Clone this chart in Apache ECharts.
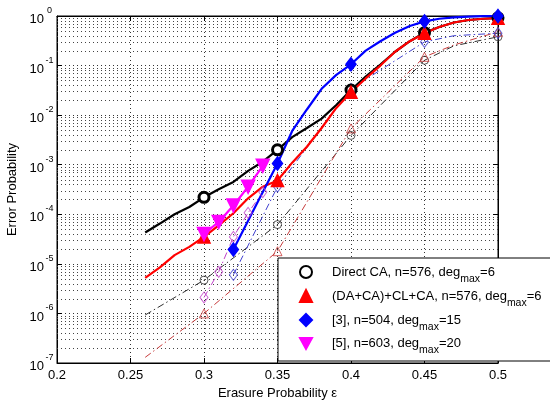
<!DOCTYPE html>
<html>
<head>
<meta charset="utf-8">
<script src="https://cdn.jsdelivr.net/npm/echarts@6/dist/echarts.min.js"></script>
<style>html,body{margin:0;padding:0;background:#fff;}#c{width:550px;height:401px;}</style>
</head>
<body>
<div id="c"></div>
<script>
// ---- data ----
const xTicks = [0.2, 0.25, 0.3, 0.35, 0.4, 0.45, 0.5];

// Direct CA, n=576 (solid black, circle markers)
const directX = [0.26,0.27,0.28,0.29,0.30,0.31,0.32,0.33,0.34,0.35,0.36,0.37,0.38,0.39,0.40,0.41,0.42,0.43,0.44,0.45,0.46,0.47,0.48,0.49,0.50];
const directY = [4.3e-5,6.5e-5,1.0e-4,1.4e-4,2.2e-4,3.2e-4,4.5e-4,7.5e-4,1.15e-3,2.0e-3,3.6e-3,5.5e-3,8.5e-3,1.6e-2,3.2e-2,6.0e-2,1.05e-1,1.9e-1,3.1e-1,4.6e-1,6.0e-1,7.4e-1,8.3e-1,8.8e-1,9.2e-1];
const directMarkX = [0.30,0.35,0.40,0.45,0.50];

// (DA+CA)+CL+CA, n=576 (solid red, triangle markers)
const daX = [0.26,0.27,0.28,0.29,0.30,0.31,0.32,0.33,0.34,0.35,0.36,0.37,0.38,0.39,0.40,0.41,0.42,0.43,0.44,0.45,0.46,0.47,0.48,0.49,0.50];
const daY = [5.2e-6,8.5e-6,1.5e-5,2.2e-5,3.5e-5,6.0e-5,1.05e-4,2.1e-4,3.6e-4,4.8e-4,1.1e-3,2.3e-3,5.5e-3,1.4e-2,2.9e-2,5.5e-2,1.0e-1,1.9e-1,3.1e-1,4.5e-1,6.0e-1,7.4e-1,8.3e-1,8.8e-1,9.0e-1];
const daMarkX = [0.30,0.35,0.40,0.45,0.50];

// [3], n=504 (solid blue, diamond markers)
const ref3X = [0.32,0.33,0.34,0.35,0.36,0.37,0.38,0.39,0.40,0.41,0.42,0.43,0.44,0.45,0.46,0.47,0.48,0.49,0.50];
const ref3Y = [1.95e-5,7.4e-5,2.8e-4,1.06e-3,4.8e-3,1.3e-2,3.4e-2,6.5e-2,1.06e-1,2.0e-1,3.1e-1,4.6e-1,6.3e-1,7.8e-1,8.8e-1,9.4e-1,9.7e-1,9.9e-1,1.0];
const ref3MarkX = [0.32,0.35,0.40,0.45,0.50];

// [5], n=603 (solid magenta, down-triangle markers)
const ref5X = [0.30,0.31,0.32,0.33,0.34];
const ref5Y = [4.0e-5,7.0e-5,1.5e-4,3.6e-4,9.5e-4];
const ref5MarkX = [0.30,0.31,0.32,0.33,0.34];

// dash-dot companions (hollow markers)
const directDdX = [0.26,0.30,0.35,0.40,0.45,0.47,0.50];
const directDdY = [9.3e-7,4.7e-6,6.2e-5,3.9e-3,1.28e-1,2.5e-1,3.8e-1];
const daDdX = [0.26,0.30,0.35,0.40,0.45,0.47,0.50];
const daDdY = [1.3e-7,1.0e-6,1.8e-5,5.4e-3,1.5e-1,2.6e-1,4.8e-1];
const ref3DdX = [0.32,0.35,0.40,0.45,0.47,0.50];
const ref3DdY = [6.0e-6,3.6e-4,3.4e-2,3.0e-1,4.0e-1,4.5e-1];
const ref5DdX = [0.30,0.31,0.32,0.33,0.34];
const ref5DdY = [2.1e-6,6.9e-6,3.5e-5,1.07e-4,2.8e-4];

const legendNames = ['Direct CA', 'DA', 'Ref3', 'Ref5'];
const legendText = {
  'Direct CA': ['Direct CA, n=576, deg', 'max', '=6'],
  'DA': ['(DA+CA)+CL+CA, n=576, deg', 'max', '=6'],
  'Ref3': ['[3], n=504, deg', 'max', '=15'],
  'Ref5': ['[5], n=603, deg', 'max', '=20']
};

// ---- helpers ----
const FONT = 'Liberation Sans, Arial, sans-serif';
function pts(xs, ys) { return xs.map((x, i) => [x, ys[i]]); }
function marks(xs, ys, mx) {
  return xs.map((x, i) => [x, ys[i]]).filter(p => mx.some(m => Math.abs(m - p[0]) < 1e-9));
}
const DD = [7, 3, 1.5, 3];
const downTri = 'path://M0,0 L10,0 L5,9 Z';

// minor grid values for the log axis (2..9 per decade)
const minorGrid = [];
for (let e = -7; e < 0; e++) for (let k = 2; k <= 9; k++) minorGrid.push([0.2, k * Math.pow(10, e), 0.5]);

function solidLine(xs, ys, color) {
  return { type: 'line', data: pts(xs, ys), showSymbol: false, symbol: 'none', smooth: false,
    lineStyle: { color: color, width: 2.2 }, z: 4, silent: true };
}
function ddLine(xs, ys, color) {
  return { type: 'line', data: pts(xs, ys), showSymbol: false, symbol: 'none',
    lineStyle: { color: color, width: 1, type: DD }, z: 3, silent: true };
}
function markerSeries(name, data, symbol, size, color, fill, bw) {
  return { type: 'scatter', name: name, data: data, symbol: symbol, symbolSize: size,
    itemStyle: { color: fill, borderColor: color, borderWidth: bw, opacity: 1 }, z: 6, silent: true };
}
function hollow(data, symbol, size, color) {
  return { type: 'scatter', data: data, symbol: symbol, symbolSize: size,
    itemStyle: { color: 'rgba(255,255,255,0)', borderColor: color, borderWidth: 1 }, z: 5, silent: true };
}

const chart = echarts.init(document.getElementById('c'), null, { renderer: 'canvas' });

const axisCommonX = { type: 'value', min: 0.2, max: 0.5, interval: 0.05 };
const option = {
  animation: false,
  backgroundColor: '#fff',
  textStyle: { fontFamily: FONT },
  grid: { left: 57, right: 52, top: 16, bottom: 38, show: true, borderColor: '#000', borderWidth: 1,
    backgroundColor: '#fff', containLabel: false, outerBoundsMode: 'none' },
  xAxis: [
    Object.assign({}, axisCommonX, {
      position: 'bottom',
      axisLine: { show: true, lineStyle: { color: '#000', width: 1 } },
      axisTick: { show: true, inside: true, length: 5, lineStyle: { color: '#000' } },
      axisLabel: { fontSize: 13, color: '#000', fontFamily: FONT, margin: 6,
        formatter: v => String(parseFloat(v.toFixed(2))) },
      splitLine: { show: true, lineStyle: { color: '#333', type: [1, 3], width: 1 } },
      name: 'Erasure Probability ε', nameLocation: 'middle', nameGap: 21,
      nameTextStyle: { fontSize: 13, color: '#000', fontFamily: FONT }
    }),
    Object.assign({}, axisCommonX, {
      position: 'top',
      axisLine: { show: true, lineStyle: { color: '#000', width: 1 } },
      axisTick: { show: true, inside: true, length: 5, lineStyle: { color: '#000' } },
      axisLabel: { show: false }, splitLine: { show: false }
    })
  ],
  yAxis: [
    {
      type: 'log', logBase: 10, min: 1e-7, max: 1, splitNumber: 7, position: 'left',
      axisLine: { show: true, lineStyle: { color: '#000', width: 1 } },
      axisTick: { show: true, inside: true, length: 5, lineStyle: { color: '#000' } },
      axisLabel: {
        margin: 2, color: '#000', fontFamily: FONT,
        formatter: v => '{b|10}{s|' + Math.round(Math.log10(v)) + '}',
        rich: {
          b: { fontSize: 13, fontFamily: FONT, color: '#000', lineHeight: 20, verticalAlign: 'bottom' },
          s: { fontSize: 9, fontFamily: FONT, color: '#000', verticalAlign: 'top', width: 11, align: 'left' }
        }
      },
      splitLine: { show: true, lineStyle: { color: '#333', type: [1, 3], width: 1 } },
      name: 'Error Probability', nameLocation: 'middle', nameGap: 37, nameRotate: 90,
      nameTextStyle: { fontSize: 13, color: '#000', fontFamily: FONT }
    },
    {
      type: 'log', logBase: 10, min: 1e-7, max: 1, splitNumber: 7, position: 'right',
      axisLine: { show: true, lineStyle: { color: '#000', width: 1 } },
      axisTick: { show: true, inside: true, length: 5, lineStyle: { color: '#000' } },
      axisLabel: { show: false }, splitLine: { show: false }
    }
  ],
  legend: {
    data: legendNames,
    orient: 'vertical', left: 278, top: 258,
    itemWidth: 12, itemHeight: 12, itemGap: 4.5,
    padding: [7, 40, 5, 21],
    backgroundColor: '#fff', borderColor: '#000', borderWidth: 1,
    selectedMode: false,
    formatter: n => { const t = legendText[n]; return '{sp|}{t|' + t[0] + '}{u|' + t[1] + '}{t|' + t[2] + '}'; },
    textStyle: {
      fontFamily: FONT, color: '#000',
      rich: {
        sp: { width: 15 },
        t: { fontSize: 13, fontFamily: FONT, color: '#000', lineHeight: 25, verticalAlign: 'middle' },
        u: { fontSize: 10.5, fontFamily: FONT, color: '#000', verticalAlign: 'bottom' }
      }
    }
  },
  series: [
    { type: 'custom', data: minorGrid, silent: true, z: 1, clip: true,
      encode: { x: [0, 2], y: 1 },
      renderItem: function (params, api) {
        const p1 = api.coord([api.value(0), api.value(1)]);
        const p2 = api.coord([api.value(2), api.value(1)]);
        const y = Math.round(p1[1]) + 0.5;
        return { type: 'line', shape: { x1: p1[0], y1: y, x2: p2[0], y2: y },
          style: { stroke: '#444', lineWidth: 1, lineDash: [1, 3] } };
      } },
    ddLine(directDdX, directDdY, '#303030'),
    ddLine(daDdX, daDdY, '#c83c3c'),
    ddLine(ref3DdX, ref3DdY, '#4040d0'),
    ddLine(ref5DdX, ref5DdY, '#c040c8'),
    hollow(marks(directDdX, directDdY, directMarkX), 'circle', 8, '#303030'),
    hollow(marks(daDdX, daDdY, daMarkX), 'triangle', 9, '#c83c3c'),
    hollow(marks(ref3DdX, ref3DdY, ref3MarkX), 'diamond', [8, 11], '#4040d0'),
    hollow(marks(ref5DdX, ref5DdY, ref5MarkX), 'diamond', [8, 11], '#c040c8'),
    solidLine(directX, directY, '#000'),
    solidLine(daX, daY, '#ff0000'),
    solidLine(ref3X, ref3Y, '#0000ff'),
    solidLine(ref5X, ref5Y, '#ff00ff'),
    markerSeries('Direct CA', marks(directX, directY, directMarkX), 'circle', 10, '#000', '#fff', 3),
    markerSeries('DA', marks(daX, daY, daMarkX), 'triangle', 12, '#ff0000', '#ff0000', 1.5),
    markerSeries('Ref3', marks(ref3X, ref3Y, ref3MarkX), 'diamond', [10, 13], '#0000ff', '#0000ff', 1.5),
    markerSeries('Ref5', marks(ref5X, ref5Y, ref5MarkX), downTri, 13, '#ff00ff', '#ff00ff', 1.5)
  ]
};
chart.setOption(option);
</script>
</body>
</html>
